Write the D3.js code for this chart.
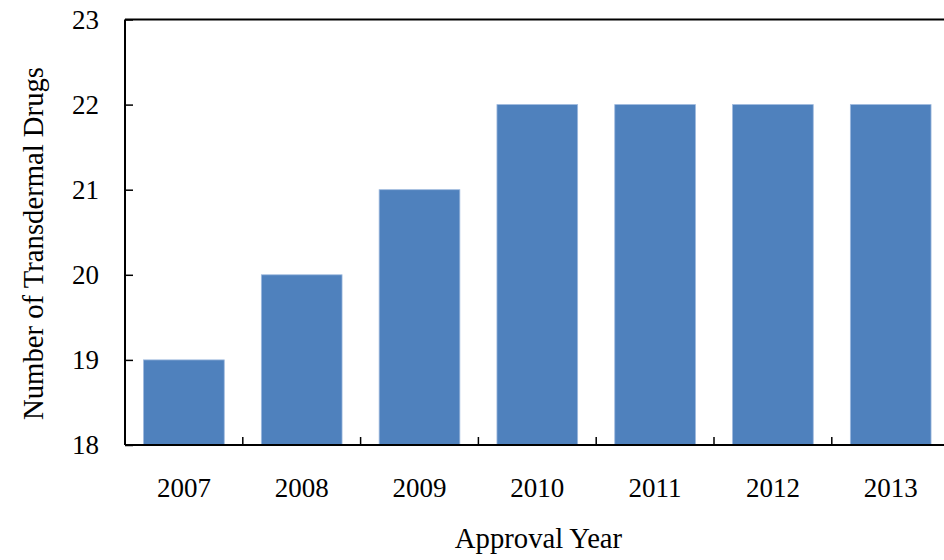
<!DOCTYPE html>
<html>
<head>
<meta charset="utf-8">
<script src="https://cdn.jsdelivr.net/npm/d3@7"></script>
<style>
  html, body { margin: 0; padding: 0; background: #fff; }
  svg { display: block; }
  text { font-family: "Liberation Serif", "Times New Roman", serif; fill: #000; }
</style>
</head>
<body>
<svg id="chart" width="944" height="560"></svg>
<script>
const categories = ["2007", "2008", "2009", "2010", "2011", "2012", "2013"];
const values = [19, 20, 21, 22, 22, 22, 22];
const yTicks = [18, 19, 20, 21, 22, 23];
const xTitle = "Approval Year";
const yTitle = "Number of Transdermal Drugs";

(function () {
const svg = d3.select("#chart");
const mLeft = 125, mTop = 19.5, mBottom = 445, step = 117.8;
const mRight = mLeft + step * categories.length;

const x = d3.scaleBand().domain(categories).range([mLeft, mRight]).paddingInner(0.315).paddingOuter(0.1575);
const y = d3.scaleLinear().domain([18, 23]).range([mBottom, mTop]);

// bars
svg.append("g").selectAll("rect").data(values).join("rect")
  .attr("x", (d, i) => x(categories[i]))
  .attr("y", d => y(d))
  .attr("width", x.bandwidth())
  .attr("height", d => y(18) - y(d))
  .attr("fill", "#4F81BD")
  .attr("stroke", "#9DB9DE")
  .attr("stroke-width", 0.8);

// top border
svg.append("line").attr("x1", mLeft).attr("x2", mRight).attr("y1", mTop).attr("y2", mTop)
  .attr("stroke", "#000").attr("stroke-width", 2);

// y axis
const yAxis = d3.axisRight(y).tickValues(yTicks).tickSize(8).tickFormat("");
const gy = svg.append("g").attr("transform", `translate(${mLeft},0)`).call(yAxis);
gy.select(".domain").attr("stroke", "#000").attr("stroke-width", 2).attr("d", `M0,${mTop}V${mBottom}`);
gy.selectAll(".tick line").attr("stroke", "#000").attr("stroke-width", 1.5);
svg.append("g").selectAll("text").data(yTicks).join("text")
  .attr("x", 99).attr("y", d => y(d)).attr("dy", "0.35em")
  .attr("text-anchor", "end").attr("font-size", 27).text(d => d);

// x axis
const gx = svg.append("g").attr("transform", `translate(0,${mBottom})`);
gx.append("line").attr("x1", mLeft).attr("x2", mRight).attr("stroke", "#000").attr("stroke-width", 2);
const boundaries = categories.slice(1).map(c => x(c) - x.step() * x.paddingInner() / 2);
gx.selectAll("line.tk").data(boundaries).join("line").attr("class", "tk")
  .attr("x1", d => d).attr("x2", d => d).attr("y1", 0).attr("y2", -8)
  .attr("stroke", "#000").attr("stroke-width", 1.5);
gx.selectAll("text").data(categories).join("text")
  .attr("x", d => x(d) + x.bandwidth() / 2).attr("y", 52)
  .attr("text-anchor", "middle").attr("font-size", 27).text(d => d);

// titles
svg.append("text").attr("x", 538.5).attr("y", 548).attr("text-anchor", "middle")
  .attr("font-size", 28.7).text(xTitle);
svg.append("text").attr("transform", `translate(43,243.5) rotate(-90)`)
  .attr("text-anchor", "middle").attr("font-size", 28.7).text(yTitle);
})();
</script>
</body>
</html>
